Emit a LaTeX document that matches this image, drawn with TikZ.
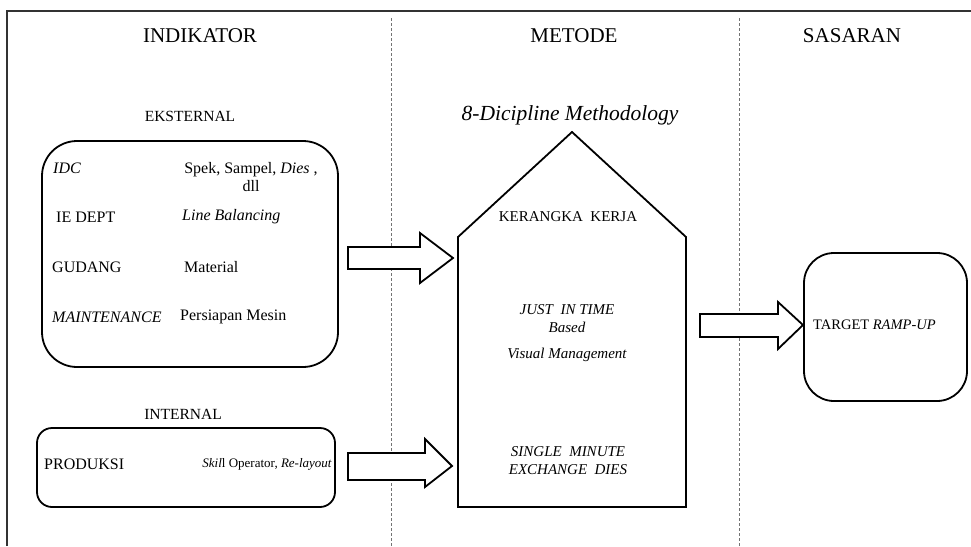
\documentclass[tikz,border=0pt]{standalone}
\usepackage{fontspec}
\setmainfont{Liberation Serif}
\newcommand\fsz[2]{\fontsize{#1}{#2}\selectfont}
\tikzset{
  txt/.style={inner sep=0pt, font=\fsz{16}{18}},
  head/.style={inner sep=0pt, font=\fsz{21}{24}},
  rbox/.style={draw=black, line width=1.8pt},
  blockarrow/.style={draw=black, line width=1.8pt, fill=white, line join=miter},
  divider/.style={draw=black!55, line width=1pt, dash pattern=on 3pt off 2pt},
  frame/.style={draw=black!80, line width=1.5pt}
}
\begin{document}
\begin{tikzpicture}[x=1pt,y=-1pt]
\useasboundingbox (0,0) rectangle (971,546);
% frame
\draw[frame] (7,546) -- (7,11) -- (971,11);
% dividers
\coordinate (d1t) at (391,18); \coordinate (d1b) at (391,546);
\coordinate (d2t) at (739,18); \coordinate (d2b) at (739,546);
\draw[divider] (d1t) -- (d1b);
\draw[divider] (d2t) -- (d2b);
% headings
\node[head] (h1) at (200,36) {INDIKATOR};
\node[head] (h2) at (574,36) {METODE};
\node[head] (h3) at (852,36) {SASARAN};
% eksternal
\node[txt, font=\fsz{15.5}{18}] (eks) at (190,116) {EKSTERNAL};
\draw[rbox, rounded corners=35pt] (42,141) rectangle (338,367);
\node[txt, anchor=west] (idc) at (53,168) {\itshape IDC};
\node[txt, align=center] (spek) at (251,177) {Spek, Sampel, \textit{Dies} ,\\dll};
\node[txt, anchor=west] (ie) at (56,217) {IE DEPT};
\node[txt, anchor=west] (lb) at (182,217) {\itshape Line Balancing};
\node[txt, anchor=west] (gud) at (52,267) {GUDANG};
\node[txt, anchor=west] (mat) at (184,267) {Material};
\node[txt, anchor=west] (mnt) at (52,317) {\itshape MAINTENANCE};
\node[txt, anchor=west] (pm) at (180,317) {Persiapan Mesin};
% internal
\node[txt, font=\fsz{15.5}{18}] (int) at (183,414) {INTERNAL};
\draw[rbox, rounded corners=15pt] (37,428) rectangle (335,507);
\node[txt, anchor=west] (prod) at (44,464) {PRODUKSI};
\node[txt, anchor=east, font=\fsz{13}{15}] (skill) at (332,464) {\textit{Skil}l Operator, \textit{Re-layout}};
% house
\node[inner sep=0pt, font=\fsz{21.5}{24}\itshape] (dis) at (570,115) {8-Dicipline Methodology};
\draw[rbox, line join=miter] (458,237) -- (572,132) -- (686,237) -- (686,507) -- (458,507) -- cycle;
\node[txt, font=\fsz{15}{18}] (kk) at (568,217) {KERANGKA\ \ KERJA};
\node[txt, font=\fsz{15}{18}\itshape, align=center] (jit) at (567,319) {JUST\ \ IN TIME\\Based};
\node[txt, font=\fsz{15}{18}\itshape] (vm) at (567,355) {Visual Management};
\node[txt, font=\fsz{15}{18}\itshape, align=center] (smed) at (568,461) {SINGLE\ \ MINUTE\\EXCHANGE\ \ DIES};
% target
\draw[rbox, rounded corners=30pt] (804,253) rectangle (967,401);
\node[txt, anchor=west, font=\fsz{14.5}{17}] (tgt) at (813,325) {TARGET \textit{RAMP-UP}};
% block arrows
\draw[blockarrow] (348,247) -- (420,247) -- (420,233) -- (453,258) -- (420,283) -- (420,269) -- (348,269) -- cycle;
\draw[blockarrow] (348,453) -- (425,453) -- (425,439) -- (452,466) -- (425,487) -- (425,480) -- (348,480) -- cycle;
\draw[blockarrow] (700,314) -- (778,314) -- (778,302) -- (803,325) -- (778,349) -- (778,337) -- (700,337) -- cycle;
\end{tikzpicture}
\end{document}
